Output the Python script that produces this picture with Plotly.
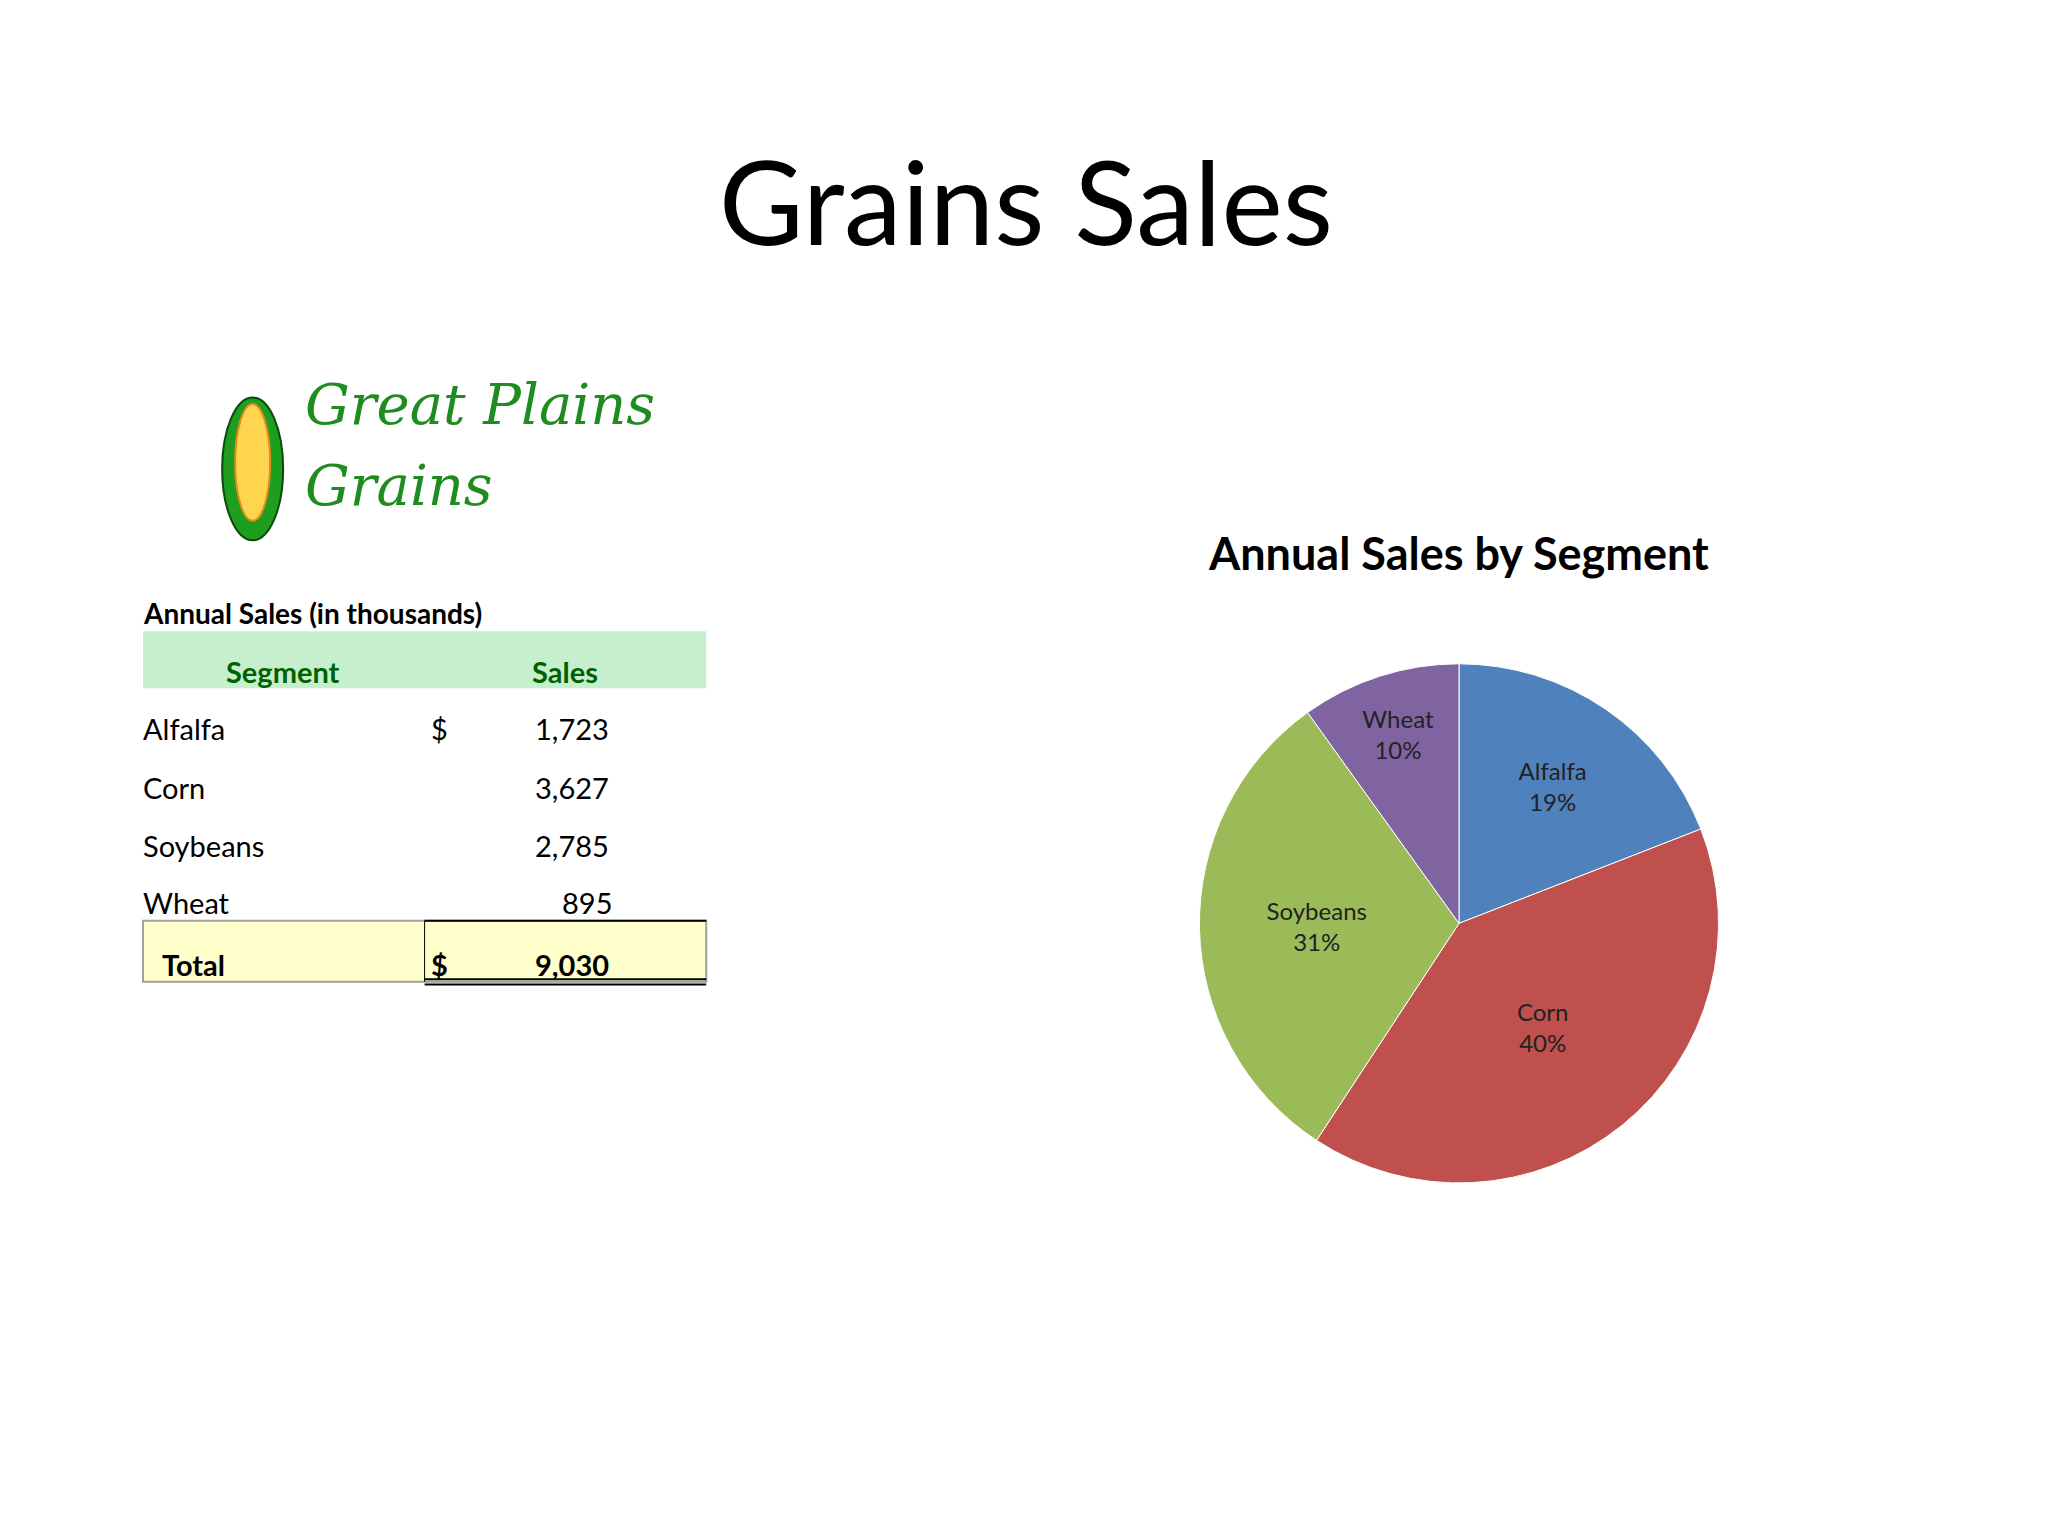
import plotly.graph_objects as go

segments = ["Alfalfa", "Corn", "Soybeans", "Wheat"]
sales = [1723, 3627, 2785, 895]
colors = ["#4F81BD", "#C0504D", "#9BBB59", "#8064A2"]

W, H = 1578.0, 1183.0  # reference layout units
def px(x): return x / W
def py(y): return 1 - y / H

FONT = "Lato"
fig = go.Figure()

# pie
cx, cy, r = 1118, 705, 200
fig.add_trace(go.Pie(
    labels=segments, values=sales, sort=False, direction="clockwise", rotation=0,
    marker=dict(colors=colors, line=dict(color="white", width=1)),
    texttemplate="%{label}<br>%{percent:.0%}", textposition="inside",
    insidetextfont=dict(family=FONT, size=24, color="#222"),
    domain=dict(x=[px(cx - r), px(cx + r)], y=[py(cy + r), py(cy - r)]),
    showlegend=False, hoverinfo="label+value+percent",
))

ann = []
def txt(x, y, t, size=29, bold=False, color="black", anchor="left", family=FONT):
    if bold:
        t = "<b>" + t + "</b>"
    ann.append(dict(x=px(x), y=py(y), xref="paper", yref="paper", text=t, showarrow=False,
                    xanchor=anchor, yanchor="middle", font=dict(family=family, size=size, color=color),
                    borderpad=0))

txt(784, 148, "Grains Sales", size=116, anchor="center")
txt(1118, 420, "Annual Sales by Segment", size=45, bold=True, anchor="center")
txt(228, 305, "<i>Great Plains</i>", size=56, color="#1E8C1E", family="DejaVu Serif")
txt(228, 368, "<i>Grains</i>", size=56, color="#1E8C1E", family="DejaVu Serif")
txt(103, 466, "Annual Sales (in thousands)", size=28, bold=True)

shapes = []
def rect(x0, y0, x1, y1, fill, line="rgba(0,0,0,0)", w=0):
    shapes.append(dict(type="rect", xref="paper", yref="paper", x0=px(x0), x1=px(x1),
                       y0=py(y1), y1=py(y0), fillcolor=fill, line=dict(color=line, width=w), layer="below"))
def hline(x0, x1, y, w=2):
    shapes.append(dict(type="line", xref="paper", yref="paper", x0=px(x0), x1=px(x1),
                       y0=py(y), y1=py(y), line=dict(color="black", width=w)))

# logo (simple corn cob)
shapes.append(dict(type="circle", xref="paper", yref="paper", x0=px(165), x1=px(212), y0=py(410), y1=py(300),
                   fillcolor="#1E9E1E", line=dict(color="#0A4A0A", width=2)))
shapes.append(dict(type="circle", xref="paper", yref="paper", x0=px(175), x1=px(202), y0=py(395), y1=py(305),
                   fillcolor="#FFD54F", line=dict(color="#E08A1E", width=2)))

rect(104, 480, 538, 524, "#C6EFCE")
txt(212, 511, "Segment", bold=True, color="#006100", anchor="center")
txt(429, 511, "Sales", bold=True, color="#006100", anchor="center")

row_y = [555, 600, 645, 689]
for i, (s, v) in enumerate(zip(segments, sales)):
    txt(103, row_y[i], s)
    txt(464 if v >= 1000 else 466, row_y[i], f"{v:,}", anchor="right")
txt(325, 555, "$")

rect(104, 703, 538, 750, "#FFFFCC", line="#A0A0A0", w=2)
hline(321, 538, 703)
hline(321, 538, 748)
hline(321, 538, 752)
shapes.append(dict(type="line", xref="paper", yref="paper", x0=px(321), x1=px(321),
                   y0=py(750), y1=py(703), line=dict(color="black", width=1)))
txt(118, 737, "Total", bold=True)
txt(325, 737, "$", bold=True)
txt(464, 737, f"{sum(sales):,}", bold=True, anchor="right")

fig.update_layout(width=2048, height=1536, margin=dict(l=0, r=0, t=0, b=0),
                  paper_bgcolor="white", plot_bgcolor="white",
                  annotations=ann, shapes=shapes)
fig.write_html("out.html")
